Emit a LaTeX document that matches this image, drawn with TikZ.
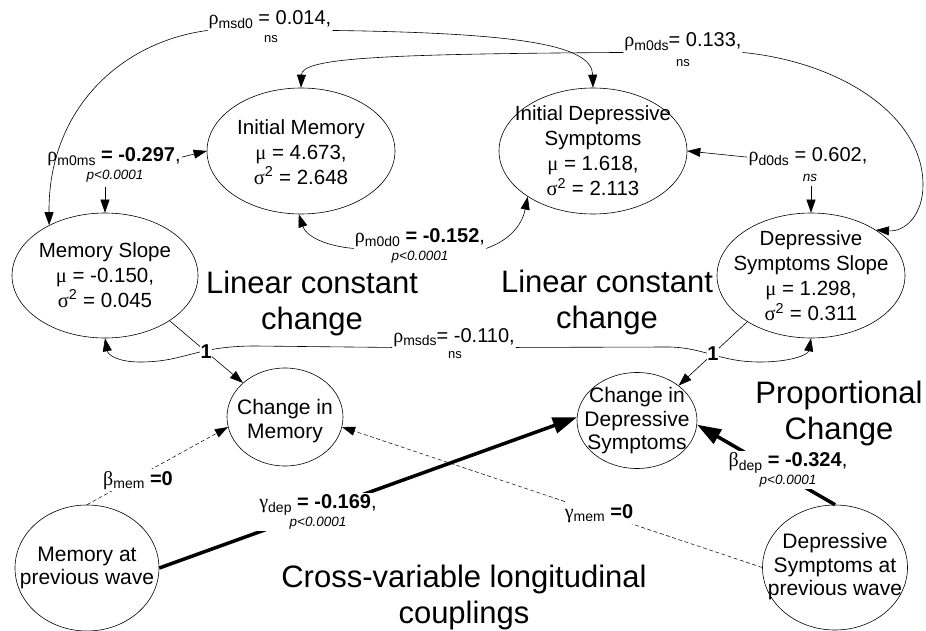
\documentclass[tikz,border=0pt]{standalone}
\usepackage{fontspec}
\setmainfont{Liberation Sans}
\newfontfamily\grfont{Liberation Serif}
\usetikzlibrary{shapes.geometric,arrows.meta}
\pgfdeclarelayer{bg}
\pgfsetlayers{bg,main}
\newcommand{\lsub}[1]{\raisebox{-3.5pt}{\fontsize{14}{14}\selectfont #1}}
\newcommand{\gk}[1]{{\grfont #1}}
\newcommand{\pvf}{\fontsize{13.5}{14}\selectfont\itshape}
\tikzset{
 ell/.style={draw, ellipse, line width=0.6pt, inner sep=0pt},
 etext/.style={align=center, inner sep=0pt, font=\fontsize{20.5}{25}\selectfont},
 ctext/.style={align=center, inner sep=0pt, font=\fontsize{21}{23.5}\selectfont},
 lab/.style={inner sep=1pt, font=\fontsize{20}{18}\selectfont},
 sml/.style={inner sep=1pt, font=\fontsize{13}{14}\selectfont},
 pvl/.style={inner sep=1pt, font=\pvf},
 big/.style={align=center, inner sep=0pt, font=\fontsize{31}{36}\selectfont},
 onelab/.style={fill=white, inner sep=0.5pt, font=\fontsize{20}{20}\selectfont\bfseries},
 ln/.style={line width=0.6pt},
 arr/.style={ln, -{Triangle[length=13pt,width=9pt]}},
 dsh/.style={line width=0.5pt, dash pattern=on 4pt off 2.5pt, -{Triangle[length=13pt,width=9pt]}},
 heavy/.style={line width=3.5pt, -{Triangle[length=24pt,width=16pt]}},
}
\begin{document}
\begin{tikzpicture}[x=1pt,y=-1pt]
\begin{pgfonlayer}{bg}
\fill[white] (0,0) rectangle (926,631);
\end{pgfonlayer}
\useasboundingbox (0,0) rectangle (926,631);

% latent ellipses
\node[ell, minimum width=188pt, minimum height=126pt] (IM) at (301,151) {};
\node[etext] (IMt) at (301,152) {Initial Memory\\ \gk{μ} = 4.673,\\ \gk{σ}\textsuperscript{2} = 2.648};
\node[ell, minimum width=188pt, minimum height=126pt] (ID) at (593,151) {};
\node[etext] (IDt) at (593,151) {Initial Depressive\\ Symptoms\\ \gk{μ} = 1.618,\\ \gk{σ}\textsuperscript{2} = 2.113};
\node[ell, minimum width=186pt, minimum height=125pt] (MS) at (105,275.5) {};
\node[etext] (MSt) at (105,275) {Memory Slope\\ \gk{μ} = -0.150,\\ \gk{σ}\textsuperscript{2} = 0.045};
\node[ell, minimum width=188pt, minimum height=125pt] (DS) at (811,275.5) {};
\node[etext] (DSt) at (811,276) {Depressive\\ Symptoms Slope\\ \gk{μ} = 1.298,\\ \gk{σ}\textsuperscript{2} = 0.311};
\node[ell, minimum width=116pt, minimum height=98pt] (CM) at (285,417) {};
\node[ctext] (CMt) at (285,421) {Change in\\ Memory};
\node[ell, minimum width=120pt, minimum height=96pt] (CD) at (637,420.5) {};
\node[ctext] (CDt) at (637,421) {Change in\\ Depressive\\ Symptoms};
\node[ell, minimum width=144pt, minimum height=126pt] (MP) at (87,568) {};
\node[ctext] (MPt) at (87,568) {Memory at\\ previous wave};
\node[ell, minimum width=145pt, minimum height=125pt] (DP) at (835,567.5) {};
\node[ctext] (DPt) at (835,567) {Depressive\\ Symptoms at\\ previous wave};

% big captions
\node[big] (lin1) at (312,303) {Linear constant\\ change};
\node[big] (lin2) at (607,302) {Linear constant\\ change};
\node[big] (prop) at (839,413) {Proportional\\ Change};
\node[big] (cross) at (464,597) {Cross-variable longitudinal\\ couplings};

% covariance labels
\node[lab, anchor=base] (lmsd0) at (270,25) {\gk{ρ}\lsub{msd0} = 0.014,};
\node[sml, anchor=base] (lmsd0p) at (271,43) {ns};
\node[lab, anchor=base] (lm0ds) at (683,47) {\gk{ρ}\lsub{m0ds}= 0.133,};
\node[sml, anchor=base] (lm0dsp) at (683,67) {ns};
\node[lab, anchor=base] (lm0ms) at (114,162) {\gk{ρ}\lsub{m0ms} \textbf{= -0.297},};
\node[pvl, anchor=base] (lm0msp) at (115,180) {p<0.0001};
\node[lab, anchor=base] (ld0ds) at (808,162) {\gk{ρ}\lsub{d0ds} = 0.602,};
\node[pvl, anchor=base] (ld0dsp) at (810,182) {ns};
\node[lab, anchor=base] (lm0d0) at (420,243) {\gk{ρ}\lsub{m0d0} \textbf{= -0.152},};
\node[pvl, anchor=base] (lm0d0p) at (420,260) {p<0.0001};
\node[lab, anchor=base] (lmsds) at (454,342) {\gk{ρ}\lsub{msds}= -0.110,};
\node[sml, anchor=base] (lmsdsp) at (455,358) {ns};

% regression labels (mask the lines beneath)
\node[lab, anchor=base, fill=white, inner sep=2pt] (lbmem) at (138,485) {\gk{β}\lsub{mem} \textbf{=0}};
\node[lab, anchor=base, fill=white, inner sep=2pt] (lgmem) at (599,518) {\gk{γ}\lsub{mem} \textbf{=0}};
\node[lab, align=center, fill=white, inner sep=2pt] (lgdep) at (318,512) {\gk{γ}\lsub{dep} \textbf{= -0.169},\\ {\pvf p<0.0001}};
\node[lab, align=center, fill=white, inner sep=2pt] (lbdep) at (788,470) {\gk{β}\lsub{dep} \textbf{= -0.324},\\ {\pvf p<0.0001}};

\begin{pgfonlayer}{bg}
% rho msd0
\draw[arr] (lmsd0.south west) .. controls (120,42) and (48,110) .. (MS.138);
\draw[arr] (lmsd0.south east) .. controls (520,33) and (592,45) .. (ID.north);
% rho m0ds
\draw[arr] (lm0ds.south west) .. controls (380,54) and (302,58) .. (IM.north);
\draw[arr] (lm0ds.south east) .. controls (840,62) and (923,115) .. (923,185) .. controls (923,215) and (905,232) .. (DS.35);
% rho m0ms
\draw[arr] (lm0ms.east) -- (IM.west);
\draw[arr, shorten <=3pt] (lm0msp.south -| MS.north) -- (MS.north);
% rho d0ds
\draw[arr] (ld0ds.west) -- (ID.east);
\draw[arr, shorten <=3pt] (ld0dsp.south -| DS.north) -- (DS.north);
% rho m0d0
\draw[arr] (lm0d0.south west) .. controls (325,246) and (306,236) .. (IM.268);
\draw[arr] (lm0d0.south east) .. controls (510,240) and (522,225) .. (ID.215);
% rho msds
\draw[arr] (lmsds.south west) -- (255,346) .. controls (195,346) and (185,362) .. (140,362) .. controls (118,362) and (108,355) .. (MS.south);
\draw[arr] (lmsds.south east) -- (670,347) .. controls (705,348) and (720,362) .. (760,362) .. controls (790,362) and (808,355) .. (DS.south);
% autoregressions and couplings
\draw[dsh] (MP.north) -- (CM.190);
\draw[dsh] (DP.180) -- (CM.350);
\draw[heavy] (MP.east) -- (CD.177);
\draw[heavy] (DP.north) -- (CD.356);
\end{pgfonlayer}

% slope loadings
\draw[arr] (MS.-35) -- node[onelab] (one1) {1} (CM.141);
\draw[arr] (DS.216) -- node[onelab] (one2) {1} (CD.40);
\end{tikzpicture}
\end{document}
